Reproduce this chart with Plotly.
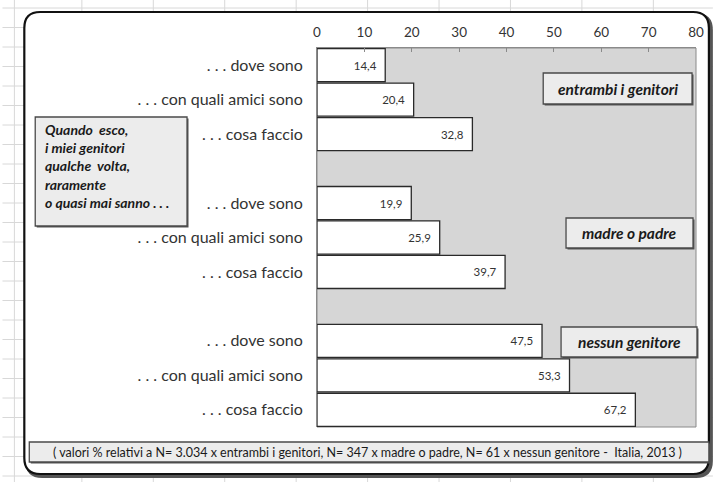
import plotly.graph_objects as go

# ---------------- data ----------------
items = [". . . dove sono", ". . . con quali amici sono", ". . . cosa faccio"]
groups = ["entrambi i genitori", "madre o padre", "nessun genitore"]
val_entrambi = [14.4, 20.4, 32.8]
val_madre = [19.9, 25.9, 39.7]
val_nessun = [47.5, 53.3, 67.2]
x_ticks = [0, 10, 20, 30, 40, 50, 60, 70, 80]
side_note = "Quando  esco,<br>i miei genitori<br>qualche  volta,<br>raramente<br>o quasi mai sanno . . ."
footer = ("( valori % relativi a N= 3.034 x entrambi i genitori, N= 347 x madre o padre, "
          "N= 61 x nessun genitore -  Italia, 2013 )")

series = [val_entrambi, val_madre, val_nessun]

# ---------------- layout geometry (pixels) ----------------
FW, FH = 716, 482
L, R, T, B = 317, 699, 48, 427
W, H = R - L, B - T


def px(x):
    return (x - L) / W


def py(y):
    return (B - y) / H


FONT = "Lato, 'Open Sans', sans-serif"
TXT = "#333333"

fig = go.Figure()

tickvals, ticktext = [], []
for g, vals in enumerate(series):
    ys = [g * 4 + i for i in range(len(items))]
    tickvals += ys
    ticktext += items
    fig.add_trace(go.Bar(
        x=vals, y=ys, orientation="h",
        marker=dict(color="white", line=dict(color="#2a2a2a", width=1.3)),
        text=[f"{v:.1f}".replace(".", ",") + "\u00a0\u00a0" for v in vals],
        textposition="inside", insidetextanchor="end",
        textfont=dict(family=FONT, size=11.5, color=TXT),
        cliponaxis=False, showlegend=False, hoverinfo="skip",
        name=groups[g],
    ))

shapes = []
# spreadsheet gridlines in the background
for gx in [12, 80, 152, 224, 296, 368, 440, 512, 584, 656]:
    shapes.append(dict(type="line", xref="paper", yref="paper",
                       x0=px(gx), x1=px(gx), y0=py(0), y1=py(FH),
                       line=dict(color="#d8d8d8", width=1), layer="below"))
gy = 8
while gy < FH:
    shapes.append(dict(type="line", xref="paper", yref="paper",
                       x0=px(0), x1=px(FW), y0=py(gy), y1=py(gy),
                       line=dict(color="#d8d8d8", width=1), layer="below"))
    gy += 19.5


def rounded(x0, y0, x1, y1, r):
    rx, ry = r / W, r / H
    a0, a1 = px(x0), px(x1)
    b0, b1 = py(y0), py(y1)  # b0 top, b1 bottom
    return (f"M {a0 + rx},{b0} L {a1 - rx},{b0} Q {a1},{b0} {a1},{b0 - ry} "
            f"L {a1},{b1 + ry} Q {a1},{b1} {a1 - rx},{b1} "
            f"L {a0 + rx},{b1} Q {a0},{b1} {a0},{b1 + ry} "
            f"L {a0},{b0 - ry} Q {a0},{b0} {a0 + rx},{b0} Z")


# shadow + outer chart frame
shapes.append(dict(type="path", xref="paper", yref="paper",
                   path=rounded(24, 14, 715, 477, 16), fillcolor="#555555",
                   line=dict(color="#555555", width=2), layer="below"))
shapes.append(dict(type="path", xref="paper", yref="paper",
                   path=rounded(22, 12, 712, 474, 16), fillcolor="white",
                   line=dict(color="#111111", width=2.2), layer="below"))
# plot area texture-like grey
shapes.append(dict(type="rect", xref="paper", yref="paper",
                   x0=0, x1=1, y0=0, y1=1, fillcolor="#d6d6d6",
                   line=dict(color="#8a8a8a", width=1), layer="below"))


def box(x0, y0, x1, y1, fill="#ececec"):
    # shadow
    shapes.append(dict(type="rect", xref="paper", yref="paper",
                       x0=px(x0 + 1.5), x1=px(x1 + 1.5), y0=py(y1 + 1.5), y1=py(y0 + 1.5),
                       fillcolor="#555555", line=dict(width=0)))
    shapes.append(dict(type="rect", xref="paper", yref="paper",
                       x0=px(x0), x1=px(x1), y0=py(y1), y1=py(y0),
                       fillcolor=fill, line=dict(color="#4a4a4a", width=1.3)))


annotations = []
label_boxes = [(545, 73, 695, 104), (568, 218, 696, 248), (563, 327, 700, 357)]
for name, (x0, y0, x1, y1) in zip(groups, label_boxes):
    box(x0, y0, x1, y1)
    annotations.append(dict(xref="paper", yref="paper", x=px((x0 + x1) / 2), y=py((y0 + y1) / 2),
                            text=f"<b><i>{name}</i></b>", showarrow=False,
                            xanchor="center", yanchor="middle",
                            font=dict(family=FONT, size=15.5, color="#1a1a1a")))

# side note
box(33, 117, 186, 226)
annotations.append(dict(xref="paper", yref="paper", x=px(41), y=py(119),
                        text=f"<b><i>{side_note}</i></b>", showarrow=False,
                        xanchor="left", yanchor="top", align="left",
                        font=dict(family=FONT, size=14, color="#1a1a1a")))

# footer
box(27, 442, 712, 462)
annotations.append(dict(xref="paper", yref="paper", x=px(368), y=py(452.5),
                        text=footer, showarrow=False, xanchor="center", yanchor="middle",
                        font=dict(family=FONT, size=12.5, color="#1a1a1a")))

fig.update_layout(
    width=FW, height=FH,
    margin=dict(l=L, r=FW - R, t=T, b=FH - B, pad=0),
    paper_bgcolor="white", plot_bgcolor="rgba(0,0,0,0)",
    bargap=0.04, barmode="overlay",
    shapes=shapes, annotations=annotations,
    font=dict(family=FONT, color=TXT),
    xaxis=dict(range=[0, 80], side="top", tickvals=x_ticks, showgrid=False, zeroline=False,
               showline=True, linecolor="#8a8a8a", linewidth=1,
               ticks="inside", ticklen=4, tickcolor="#8a8a8a", ticklabelstandoff=5,
               tickfont=dict(family=FONT, size=13.5, color=TXT), fixedrange=True),
    yaxis=dict(range=[10.5, -0.5], tickvals=tickvals, ticktext=ticktext, showgrid=False,
               zeroline=False, showline=True, linecolor="#8a8a8a", ticks="",
               ticklabelstandoff=10,
               tickfont=dict(family=FONT, size=16, color=TXT), fixedrange=True),
)

fig.write_html("out.html", config={"displayModeBar": False},
               post_script="document.body.style.margin='0';document.body.style.overflow='hidden';")
